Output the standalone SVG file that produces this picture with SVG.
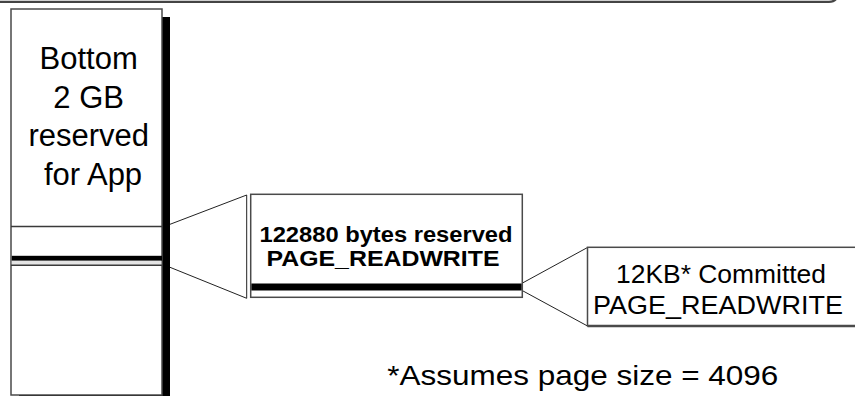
<svg xmlns="http://www.w3.org/2000/svg" width="855" height="396" viewBox="0 0 855 396">
  <style>
    .frame { fill: #ffffff; stroke: #4a4a4a; stroke-width: 1.5; }
    .rule { stroke: #3a3a3a; stroke-width: 1.5; fill: none; }
    .band { fill: #000000; }
    .shadow { fill: #000000; }
    .zoom { stroke: #222222; stroke-width: 1; fill: none; }
    .label { font-family: "Liberation Sans", Arial, sans-serif; fill: #000000; }
    .big { font-size: 31px; }
    .bold { font-size: 22px; font-weight: bold; }
    .mid { font-size: 26px; }
    .note { font-size: 28.5px; }
  </style>

  <!-- page frame edge along the top -->
  <path d="M0 1.8 H829 Q836 1.8 837.5 -4" fill="none" stroke="#444444" stroke-width="2.2"/>

  <!-- full 2 GB application region -->
  <g id="app-region">
    <rect class="shadow" x="162" y="17" width="8" height="379"/>
    <rect class="shadow" x="19" y="394.5" width="151" height="2"/>
    <rect class="frame" x="11" y="9" width="151" height="386"/>
    <line class="rule" x1="11" y1="226.5" x2="162" y2="226.5"/>
    <rect x="11.8" y="260.5" width="149.5" height="4.5" fill="#e4e4e4"/>
    <rect class="band" x="11.8" y="255.8" width="150.2" height="4.8"/>
    <line class="rule" x1="11" y1="265.3" x2="162" y2="265.3"/>
    <text class="label big" text-anchor="middle">
      <tspan x="93" y="69">Bottom</tspan>
      <tspan x="93" y="107.7">2 GB</tspan>
      <tspan x="93" y="146.2">reserved</tspan>
      <tspan x="93" y="184.5">for App</tspan>
    </text>
  </g>

  <!-- zoom-out connectors -->
  <g id="connectors">
    <path class="zoom" d="M170 224.3 L246.7 195 V298.3 L170 267.3"/>
    <line class="zoom" x1="522.5" y1="283" x2="587.5" y2="247.5"/>
    <line class="zoom" x1="522.5" y1="290.7" x2="587.5" y2="326"/>
  </g>

  <!-- reserved block -->
  <g id="reserved-region">
    <rect class="frame" x="250.7" y="194.3" width="271.6" height="103"/>
    <rect class="band" x="251.4" y="283.5" width="270.2" height="7"/>
    <text class="label bold" x="386" y="241.5" text-anchor="middle" textLength="253" lengthAdjust="spacingAndGlyphs">122880 bytes reserved</text>
    <text class="label bold" x="383" y="265.7" text-anchor="middle" textLength="233" lengthAdjust="spacingAndGlyphs">PAGE_READWRITE</text>
  </g>

  <!-- committed pages -->
  <g id="committed-region">
    <rect class="frame" x="587.5" y="247.3" width="280" height="78.5"/>
    <line x1="587.5" y1="326" x2="855" y2="326" stroke="#4a4a4a" stroke-width="2.6"/>
    <text class="label mid" x="721" y="283.3" text-anchor="middle" textLength="210" lengthAdjust="spacingAndGlyphs">12KB* Committed</text>
    <text class="label mid" x="718" y="314" text-anchor="middle" textLength="250" lengthAdjust="spacingAndGlyphs">PAGE_READWRITE</text>
  </g>

  <!-- footnote -->
  <text id="footnote" class="label note" x="387.3" y="385" textLength="391" lengthAdjust="spacingAndGlyphs">*Assumes page size = 4096</text>
</svg>
